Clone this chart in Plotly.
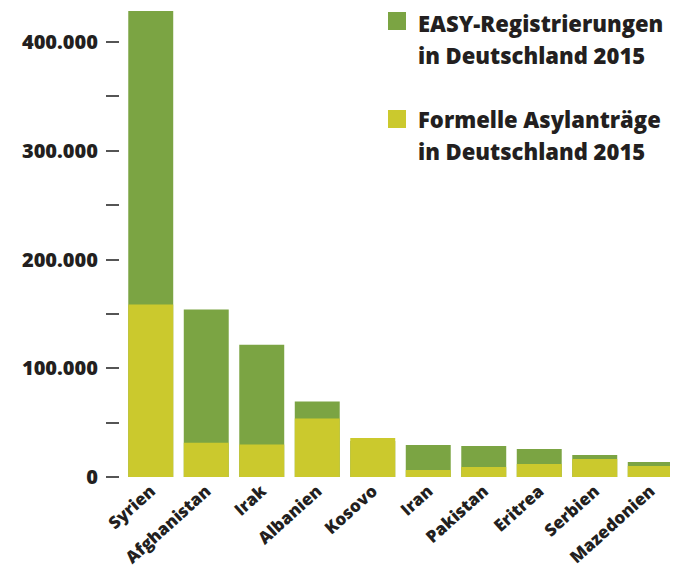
import plotly.graph_objects as go

countries = ["Syrien", "Afghanistan", "Irak", "Albanien", "Kosovo",
             "Iran", "Pakistan", "Eritrea", "Serbien", "Mazedonien"]
easy = [428468, 154046, 121662, 69426, 33049, 29400, 28500, 25700, 20200, 13800]
formal = [158657, 31382, 29784, 53805, 35900, 6400, 9200, 12000, 16600, 10100]

legend_easy = ["EASY-Registrierungen", "in Deutschland 2015"]
legend_formal = ["Formelle Asylanträge", "in Deutschland 2015"]

tick_vals = [0, 50000, 100000, 150000, 200000, 250000, 300000, 350000, 400000]
tick_text = ["0", "", "100.000", "", "200.000", "", "300.000", "", "400.000"]

GREEN = "#7ba443"
YELLOW = "#cbc92d"
TEXT = "#231f20"
FONT = "Open Sans"

# page offset from the browser's default body margin
OFF = 8
L = 111
PW = 670 - L          # paper width in px
PH = 469              # plot height in px


def px_x(xp):
    return (xp - OFF - L) / PW


def px_y(yp):
    return 1 - (yp - OFF) / PH


fig = go.Figure()
fig.add_bar(x=countries, y=easy, name=" ".join(legend_easy), marker_color=GREEN,
            marker_line_width=0, showlegend=False)
fig.add_bar(x=countries, y=formal, name=" ".join(legend_formal), marker_color=YELLOW,
            marker_line_width=0, showlegend=False)

fig.update_layout(
    width=670, height=566,
    margin=dict(l=L, r=0, t=0, b=566 - PH, autoexpand=False),
    barmode="overlay", bargap=0.19,
    plot_bgcolor="white", paper_bgcolor="white",
    font=dict(family=FONT, color=TEXT),
)
fig.update_xaxes(domain=[px_x(123), 1], showgrid=False, showline=False, zeroline=False,
                 tickangle=-42, ticks="", automargin=False,
                 tickfont=dict(family=FONT, size=17, color=TEXT, weight=800))
fig.update_yaxes(range=[0, 431300], anchor="free", position=0,
                 showgrid=False, showline=False, zeroline=False, automargin=False,
                 tickvals=tick_vals, ticktext=tick_text, ticks="outside",
                 ticklen=13, tickcolor="#555555", tickwidth=1.6,
                 ticklabelstandoff=4,
                 tickfont=dict(family=FONT, size=20, color=TEXT, weight=800))

# legend drawn manually
entries = [(legend_easy, GREEN, 12, 11), (legend_formal, YELLOW, 110, 9)]
for lines, col, top, dy in entries:
    fig.add_shape(type="rect", xref="paper", yref="paper",
                  x0=px_x(388), x1=px_x(406),
                  y0=px_y(top + 18), y1=px_y(top),
                  fillcolor=col, line_width=0)
    for j, line in enumerate(lines):
        fig.add_annotation(text=line, xref="paper", yref="paper",
                           x=px_x(416), y=px_y(top + dy + j * 32),
                           xanchor="left", yanchor="middle", showarrow=False,
                           font=dict(family=FONT, size=22, color=TEXT, weight=800))

fig.write_html("out.html")
